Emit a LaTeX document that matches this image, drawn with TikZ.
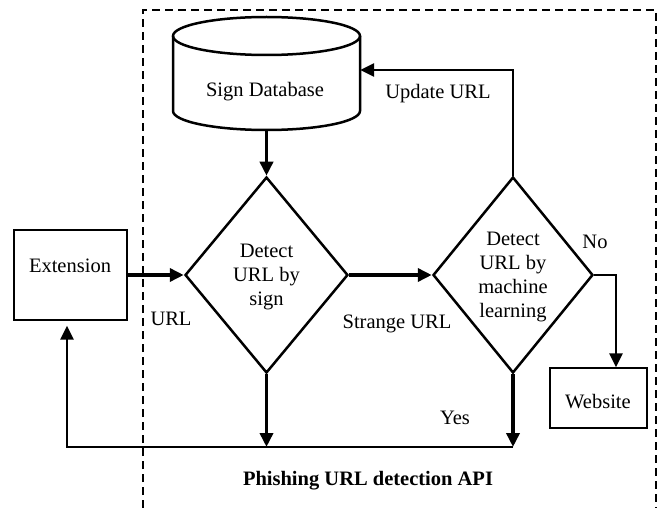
\documentclass[tikz,border=0pt]{standalone}
\usepackage{fontspec}
\setmainfont{Liberation Serif}
\usetikzlibrary{shapes.geometric,arrows.meta}
\begin{document}
\begin{tikzpicture}[x=1pt,y=-1pt,
  every node/.style={font=\fontsize{20.5}{24}\selectfont},
  lbl/.style={inner sep=0pt, align=center},
  box/.style={draw, line width=1.3pt, inner sep=0pt},
  decision/.style={draw, diamond, line width=2.5pt, inner sep=0pt},
  tip/.style={-{Triangle[length=14pt,width=13pt]}},
  flow/.style={line width=3.5pt, tip},
  thinflow/.style={line width=2.5pt, tip},
  frame/.style={line width=2.5pt, dash pattern=on 8pt off 5pt}]
\useasboundingbox (0,0) rectangle (659,508);

% API boundary (open at the bottom)
\draw[frame] (143,508) -- (143,10) -- (656,10) -- (656,508);

% Sign database cylinder
\node[inner sep=0pt, minimum width=187pt, minimum height=113pt] (db) at (266.5,73.5) {};
\draw[line width=2.5pt] (173,36) -- (173,111) arc[start angle=180, end angle=360, x radius=93.5pt, y radius=19pt] -- (360,36);
\draw[line width=2.5pt] (266.5,36) ellipse[x radius=93.5pt, y radius=19pt];
\node[lbl] (dbtext) at (265,92) {Sign Database};

% Boxes
\node[box, minimum width=113pt, minimum height=90pt] (ext) at (70.5,275) {};
\node[lbl] (exttext) at (70,266) {Extension};
\node[box, minimum width=97pt, minimum height=60pt] (web) at (598.5,398) {};
\node[lbl] (webtext) at (598,402) {Website};

% Decisions
\node[decision, minimum width=163pt, minimum height=196pt] (d1) at (266.5,275) {};
\node[lbl] (d1text) at (266.5,277) {Detect\\URL by\\sign};
\node[decision, minimum width=160pt, minimum height=196pt] (d2) at (513,275) {};
\node[lbl] (d2text) at (513,277) {Detect\\URL by\\machine\\learning};

% Connectors
\draw[flow] (db.south) -- (d1.north);
\draw[flow] (ext.east) -- (d1.west);
\draw[flow] (d1.east) -- (d2.west);

\coordinate (upd) at (513,70);
\draw[thinflow] (d2.north) -- (upd) -- (upd -| db.east);

\coordinate (nob) at (616,275);
\draw[thinflow] (d2.east) -- (nob) -- (nob |- web.north);

\coordinate (j1) at (266.5,447);
\coordinate (j2) at (513,447);
\coordinate (ret) at (67,447);
\draw[flow] (d1.south) -- (j1);
\draw[flow] (d2.south) -- (j2);
\draw[thinflow, shorten >=5pt] (j2) -- (ret) -- (ret |- ext.south);

% Labels
\node[lbl] (lurl) at (171,319) {URL};
\node[lbl] (lstrange) at (397,324) {Strange URL};
\node[lbl] (lupdate) at (438,94) {Update URL};
\node[lbl] (lno) at (595,242) {No};
\node[lbl] (lyes) at (455,418) {Yes};
\node[lbl, font=\fontsize{20.5}{24}\selectfont\bfseries] (lapi) at (368,481) {Phishing URL detection API};
\end{tikzpicture}
\end{document}
